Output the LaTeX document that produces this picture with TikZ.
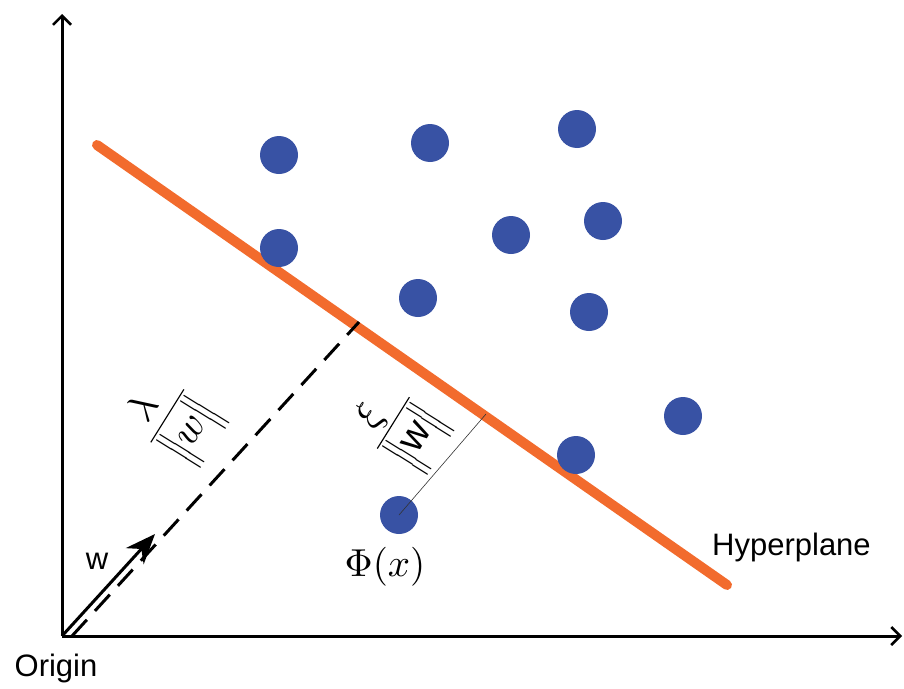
\documentclass[tikz,border=0pt]{standalone}
\usepackage{amsmath}
\usepackage{graphicx}
\usepackage{fontspec}
\setsansfont{Liberation Sans}
\usetikzlibrary{arrows.meta}
\definecolor{hyp}{HTML}{F26B2D}
\definecolor{dotblue}{HTML}{3852A4}
\tikzset{
  axis/.style={line width=3pt, -{Straight Barb[length=9pt,width=18pt,line width=2.5pt]}},
  pt/.style={circle, fill=dotblue, inner sep=0pt, minimum size=38pt},
  hyperline/.style={line width=10pt, hyp, line cap=round},
  dashline/.style={line width=3pt, dash pattern=on 22pt off 12pt},
  lab/.style={font=\sffamily\fontsize{31}{36}\selectfont, inner sep=0pt},
  frac/.style={inner sep=0pt, rotate=58},
}
\begin{document}
\begin{tikzpicture}[x=1pt,y=-1pt]
\useasboundingbox (0,0) rectangle (904,688);
\coordinate (O) at (62,636);
\coordinate (ytop) at (62,14);
\coordinate (xend) at (902,636);
\draw[axis] (O) -- (ytop);
\draw[axis] (O) -- (xend);
% hyperplane
\coordinate (h1) at (97,145);
\coordinate (h2) at (727,585);
\draw[hyperline] (h1) -- (h2);
% dots
\node[pt] (p1) at (279,155) {};
\node[pt] (p2) at (430,143) {};
\node[pt] (p3) at (577,129) {};
\node[pt] (p4) at (279,248) {};
\node[pt] (p5) at (511,235) {};
\node[pt] (p6) at (603,221) {};
\node[pt] (p7) at (418,298) {};
\node[pt] (p8) at (589,312) {};
\node[pt] (p9) at (683,416) {};
\node[pt] (p10) at (576,455) {};
\node[pt] (px) at (399,515) {};
% dashed normal
\coordinate (d0) at (72,636);
\coordinate (d1) at (359,322);
\draw[dashline] (d0) -- (d1);
% w arrow
\coordinate (w1) at (155,534);
\draw[line width=3pt, -{Stealth[length=30pt,width=24pt]}] (O) -- (w1);
% thin distance line
\coordinate (foot) at (486,414);
\draw[line width=0.6pt, black!80] (px.center) -- (foot);
% labels
\node[lab] (wl) at (97,561) {w};
\node[lab] (orig) at (56,668) {Origin};
\node[lab, anchor=west] (hl) at (712,547) {Hyperplane};
\node[inner sep=0pt] (phi) at (385,567) {\scalebox{3.9}{$\Phi(x)$}};
\node[frac] (lam) at (174,420) {\scalebox{2.9}{$\dfrac{\scalebox{1.4}{$\lambda$}}{\Big\|\scalebox{1.4}{$w$}\Big\|}$}};
\node[frac] (xi) at (400,427) {\scalebox{2.9}{$\dfrac{\scalebox{1.4}{$\xi$}}{\Big\|\scalebox{1.35}{\textsf{w}}\Big\|}$}};
\end{tikzpicture}
\end{document}
